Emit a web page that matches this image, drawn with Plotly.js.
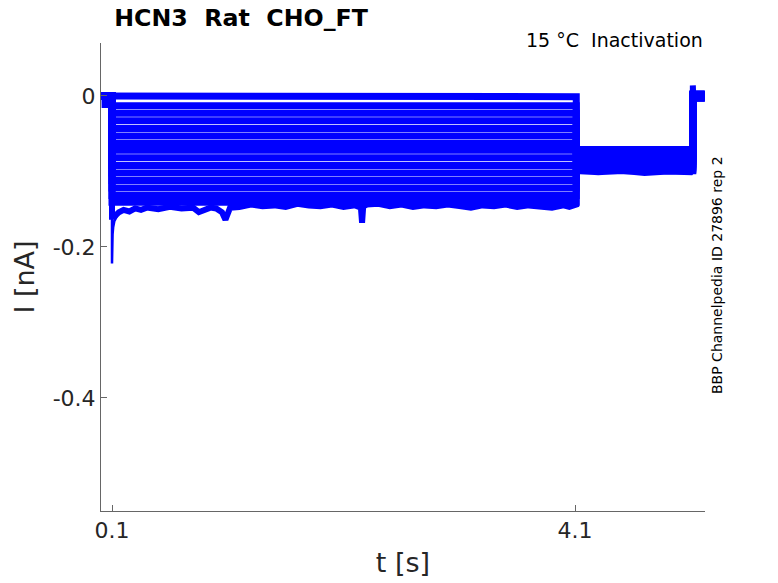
<!DOCTYPE html>
<html>
<head>
<meta charset="utf-8">
<script src="https://cdn.plot.ly/plotly-3.0.1.min.js"></script>
<style>html,body{margin:0;padding:0;background:#fff;}#chart{width:778px;height:583px;}</style>
</head>
<body>
<div id="chart"></div>
<script>
// Protocol times (s): record start, step on, step off, tail off, record end
const protocolTimes = [0.005, 0.1, 4.11, 5.117, 5.22];
// Steady current during the conditioning step for each sweep (nA)
const stepLevels = [-0.001, -0.013, -0.023, -0.033, -0.043, -0.053, -0.063, -0.072, -0.082, -0.092, -0.102, -0.112, -0.122, -0.132, -0.141];
// Current during the test (tail) pulse for each sweep (nA)
const tailLevels = [-0.071, -0.073, -0.075, -0.077, -0.079, -0.081, -0.083, -0.085, -0.087, -0.089, -0.091, -0.093, -0.095, -0.097, -0.099];
// Current after the test pulse for each sweep (nA)
const postLevels = [0.003, 0.002, 0.002, 0.001, 0.001, 0.000, 0.000, -0.001, -0.001, -0.002, -0.002, -0.003, -0.003, -0.002, 0.000];

// Deepest sweep: onset transient (fast)
const onsetT = [0.0999, 0.1, 0.102, 0.105, 0.11, 0.12, 0.14];
const onsetI = [0.000, -0.222, -0.200, -0.183, -0.174, -0.166, -0.160];
// Deepest sweep: holding artefact, step, tail and return, read in detail
const deepT = [0.005, 0.035, 0.036, 0.045, 0.046, 0.0999, 0.1, 0.12, 0.16, 0.2, 0.25, 0.3, 0.35, 0.4, 0.5, 0.6, 0.7, 0.8, 0.85, 0.9, 0.95, 1.0, 1.05, 1.08, 1.1, 1.12, 1.2, 1.3, 1.4, 1.5, 1.6, 1.7, 1.8, 1.9, 2.0, 2.1, 2.2, 2.25, 2.26, 2.27, 2.3, 2.4, 2.5, 2.6, 2.7, 2.8, 2.9, 3.0, 3.1, 3.2, 3.3, 3.4, 3.5, 3.6, 3.7, 3.8, 3.9, 4.0, 4.05, 4.11, 4.111, 4.3, 4.5, 4.7, 4.9, 5.1, 5.116, 5.117, 5.119, 5.12, 5.22];
const deepI = [0.000, 0.000, -0.012, -0.012, 0.000, 0.000, -0.160, -0.160, -0.154, -0.151, -0.153, -0.149, -0.151, -0.148, -0.150, -0.147, -0.149, -0.148, -0.154, -0.151, -0.148, -0.149, -0.154, -0.164, -0.156, -0.148, -0.147, -0.144, -0.146, -0.145, -0.147, -0.143, -0.145, -0.146, -0.144, -0.147, -0.145, -0.148, -0.168, -0.146, -0.144, -0.143, -0.146, -0.144, -0.147, -0.145, -0.146, -0.144, -0.146, -0.148, -0.145, -0.146, -0.144, -0.147, -0.145, -0.146, -0.148, -0.145, -0.147, -0.144, -0.099, -0.101, -0.099, -0.102, -0.100, -0.101, -0.098, 0.014, 0.014, 0.000, 0.000];

const xTickVals = [0.1, 4.1];
const xTickText = ['0.1', '4.1'];
const yTickVals = [-0.4, -0.2, 0];
const yTickText = ['-0.4', '-0.2', '0'];

const blue = '#0000ff';
const traces = [];
for (let i = 0; i < stepLevels.length; i++) {
  const p = protocolTimes;
  traces.push({
    type: 'scatter', mode: 'lines', hoverinfo: 'skip', showlegend: false,
    x: [p[0], p[1] - 0.0001, p[1], p[2], p[2], p[3], p[3], p[4]],
    y: [0, 0, stepLevels[i], stepLevels[i], tailLevels[i], tailLevels[i], postLevels[i], postLevels[i]],
    line: {color: blue, width: 7.0}
  });
}
traces.push({
  type: 'scatter', mode: 'lines', hoverinfo: 'skip', showlegend: false,
  x: deepT, y: deepI, line: {color: blue, width: 6}
});
traces.push({
  type: 'scatter', mode: 'lines', hoverinfo: 'skip', showlegend: false,
  x: onsetT, y: onsetI, line: {color: blue, width: 2.5}
});

const font = 'DejaVu Sans, sans-serif';
const layout = {
  width: 778, height: 583,
  margin: {l: 101, r: 73, t: 43, b: 72, pad: 0},
  paper_bgcolor: '#fff', plot_bgcolor: '#fff',
  showlegend: false,
  title: {
    text: '<b>HCN3\u00a0\u00a0Rat\u00a0\u00a0CHO_FT</b>',
    font: {family: font, size: 23.7, color: '#000'},
    xref: 'paper', x: 0.022, xanchor: 'left',
    yref: 'container', y: 1 - 18 / 583, yanchor: 'middle'
  },
  xaxis: {
    range: [0.005, 5.222], showgrid: false, zeroline: false,
    showline: true, linecolor: '#666', linewidth: 1, mirror: false,
    ticks: 'inside', ticklen: 6, tickcolor: '#666', tickwidth: 1,
    tickvals: xTickVals, ticktext: xTickText,
    tickfont: {family: font, size: 22, color: '#262626'},
    title: {text: 't [s]', font: {family: font, size: 27, color: '#262626'}, standoff: 10}
  },
  yaxis: {
    range: [-0.55, 0.0702], showgrid: false, zeroline: false,
    showline: true, linecolor: '#666', linewidth: 1, mirror: false,
    ticks: 'inside', ticklen: 6, tickcolor: '#666', tickwidth: 1,
    tickvals: yTickVals, ticktext: yTickText,
    tickfont: {family: font, size: 22, color: '#262626'},
    title: {text: 'I [nA]', font: {family: font, size: 27, color: '#262626'}, standoff: 10}
  },
  annotations: [
    {text: '15 °C\u00a0\u00a0Inactivation', xref: 'paper', yref: 'paper', x: 1, y: 1 + 3 / 468,
     xanchor: 'right', yanchor: 'middle', showarrow: false,
     font: {family: font, size: 19, color: '#000'}, xshift: 0},
    {text: 'BBP Channelpedia ID 27896 rep 2', xref: 'paper', yref: 'paper',
     x: 1, y: (511 - 275) / 468, xanchor: 'center', yanchor: 'middle', xshift: 12,
     textangle: -90, showarrow: false, font: {family: font, size: 14, color: '#000'}}
  ]
};
Plotly.newPlot('chart', traces, layout, {displayModeBar: false, staticPlot: true});
</script>
</body>
</html>
